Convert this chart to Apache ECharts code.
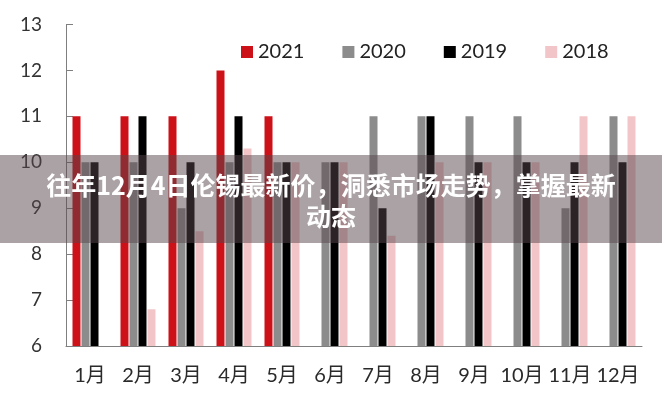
<!DOCTYPE html>
<html>
<head>
<meta charset="utf-8">
<script src="https://cdn.jsdelivr.net/npm/echarts@6/dist/echarts.min.js"></script>
<style>html,body{margin:0;padding:0;background:#fff;}#c{width:662px;height:400px;}</style>
</head>
<body>
<div id="c"></div>
<script>
const months = ['1月','2月','3月','4月','5月','6月','7月','8月','9月','10月','11月','12月'];
const seriesNames = ['2021','2020','2019','2018'];
const s2021 = [11, 11, 11, 12, 11, null, null, null, null, null, null, null];
const s2020 = [10, 10, 9, 10, 10, 10, 11, 11, 11, 11, 9, 11];
const s2019 = [10, 11, 10, 11, 10, 10, 9, 11, 10, 10, 10, 10];
const s2018 = [6, 6.8, 8.5, 10.3, 10, 10, 8.4, 10, 10, 10, 11, 11];
const colors = ['#cc1118', '#8c8c8c', '#000000', '#f2c6c8'];
const titleText = '往年12月4日伦锡最新价，洞悉市场走势，掌握最新\n动态';

const chart = echarts.init(document.getElementById('c'), null, {renderer: 'canvas'});
const font = 'Lato, "Noto Sans CJK SC", sans-serif';
const data = [s2021, s2020, s2019, s2018];
chart.setOption({
  animation: false,
  color: colors,
  textStyle: {fontFamily: font},
  grid: {left: 66, right: 20, top: 24.5, bottom: 54},
  legend: {
    data: seriesNames,
    left: 236, top: 37,
    itemWidth: 12, itemHeight: 12, itemGap: 38,
    icon: 'rect',
    textStyle: {fontSize: 20, color: '#222', fontFamily: font}
  },
  xAxis: {
    type: 'category', data: months,
    axisLine: {lineStyle: {color: '#7f7f7f', width: 1}},
    axisTick: {inside: true, length: 7, lineStyle: {color: '#7f7f7f'}},
    axisLabel: {fontSize: 20, color: '#2a2a2a', margin: 20, interval: 0, fontFamily: font}
  },
  yAxis: {
    type: 'value', min: 6, max: 13, interval: 1,
    axisLine: {show: true, lineStyle: {color: '#7f7f7f', width: 1}},
    axisTick: {show: true, inside: true, length: 7, lineStyle: {color: '#7f7f7f'}},
    splitLine: {show: false},
    axisLabel: {fontSize: 19, color: '#333', margin: 24, fontFamily: font}
  },
  series: seriesNames.map((n, i) => ({
    name: n, type: 'bar', data: data[i], barWidth: 8, barGap: '12.5%'
  })),
  graphic: [
    {type: 'rect', left: 0, top: 155, z: 100, shape: {width: 662, height: 88},
     style: {fill: 'rgba(85,70,75,0.5)'}},
    {type: 'text', left: 'center', top: 170, z: 101,
     style: {text: titleText, fill: '#fff', font: 'bold 25px "Noto Sans CJK SC", sans-serif',
             textAlign: 'center', lineHeight: 31}}
  ]
});
</script>
</body>
</html>
